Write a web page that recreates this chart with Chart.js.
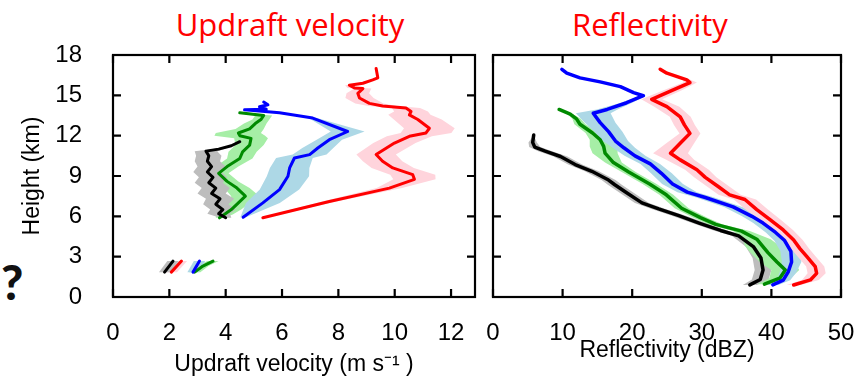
<!DOCTYPE html>
<html>
<head>
<meta charset="utf-8">
<script src="https://cdn.jsdelivr.net/npm/chart.js@4.4.1/dist/chart.umd.min.js"></script>
<style>
    body { margin: 0; background: #fff; }
    #wrap { position: relative; width: 862px; height: 379px; overflow: hidden; }
    canvas { position: absolute; top: 0; }
    .titulo { position: absolute; top: 3px; width: 320px; text-align: center; color: #ff0000;
              font-family: 'Open Sans', Lato, sans-serif; font-size: 31px; line-height: 42px; }
    #pregunta { position: absolute; left: 1px; top: 254px; font-family: Lato, sans-serif;
                font-weight: 900; font-size: 48px; line-height: 56px; color: #111; }
</style>
</head>
<body>
<div id="wrap">
    <div class="titulo" style="left:130px">Updraft velocity</div>
    <div class="titulo" style="left:490px">Reflectivity</div>
    <div id="pregunta">?</div>
    <canvas id="chartUp" width="480" height="379" style="left:0"></canvas>
    <canvas id="chartRefl" width="382" height="379" style="left:480px"></canvas>
</div>
<script>
// ticks
const heightTicks = [0, 3, 6, 9, 12, 15, 18]
const upTicks = [0, 2, 4, 6, 8, 10, 12]
const reflTicks = [0, 10, 20, 30, 40, 50]

// updraft velocity profiles (m/s) : heights (km), mean, spread
const upRedH = [5.9, 7.1, 8.1, 8.75, 9.1, 9.6, 10.1, 10.6, 11.45, 11.95, 12.2, 12.55, 13.2, 13.55, 13.8, 14.05, 14.2, 14.4, 14.8, 15.15, 15.5, 15.55, 15.75, 15.9, 16.15, 16.3, 17.0]
const upRed = [5.32, 7.68, 9.81, 10.7, 10.64, 9.93, 9.57, 9.34, 9.99, 10.52, 11.11, 11.23, 10.82, 10.52, 10.58, 10.4, 9.57, 9.1, 8.75, 8.69, 8.87, 8.57, 8.39, 8.87, 9.22, 9.4, 9.34]
const upRedSd = [0.1, 0.25, 0.45, 0.75, 0.8, 0.75, 0.7, 0.7, 0.75, 0.8, 0.9, 0.9, 0.85, 0.75, 0.6, 0.5, 0.5, 0.5, 0.5, 0.4, 0.3, 0.25, 0.15, 0.05, 0, 0, 0]

const upBlueH = [5.93, 7.0, 7.99, 8.98, 9.6, 10.34, 10.59, 11.08, 11.7, 12.31, 13.31, 13.7, 13.92, 13.97, 14.15, 14.3, 14.5]
const upBlue = [4.62, 5.32, 5.91, 6.21, 6.27, 6.44, 6.98, 7.27, 7.68, 8.33, 7.09, 5.91, 4.67, 5.44, 5.2, 5.5, 5.35]
const upBlueSd = [0.1, 0.6, 0.7, 0.75, 0.7, 0.65, 0.6, 0.55, 0.45, 0.6, 0.15, 0, 0, 0, 0, 0, 0]

const upGreenH = [5.89, 6.14, 6.5, 7.0, 7.5, 8.1, 8.6, 9.2, 9.7, 10.3, 10.8, 11.3, 11.8, 12.0, 12.2, 12.5, 12.9, 13.2, 13.5, 13.7]
const upGreen = [3.78, 3.95, 4.2, 4.45, 4.7, 4.4, 4.05, 3.75, 4.05, 4.5, 4.6, 4.85, 4.9, 4.5, 4.45, 4.85, 5.05, 5.25, 5.35, 4.5]
const upGreenSd = [0.15, 0.3, 0.35, 0.4, 0.5, 0.45, 0.4, 0.35, 0.4, 0.45, 0.5, 0.5, 0.6, 0.9, 0.8, 0.5, 0.4, 0.3, 0.3, 0]

const upBlackH = [5.9, 6.2, 6.5, 6.9, 7.3, 7.7, 8.1, 8.5, 8.9, 9.3, 9.7, 10.1, 10.5, 10.85, 11.0, 11.25, 11.55]
const upBlack = [4.0, 3.75, 3.9, 3.65, 3.8, 3.5, 3.65, 3.4, 3.55, 3.35, 3.5, 3.35, 3.4, 3.3, 3.75, 4.2, 4.5]
const upBlackSd = [0.2, 0.4, 0.45, 0.45, 0.5, 0.5, 0.5, 0.5, 0.5, 0.5, 0.5, 0.45, 0.45, 0.4, 0.2, 0, 0]

// low level (~2 km) updraft pieces
const lowH = [1.85, 2.67]
const lowBlack = [1.83, 2.13]
const lowRed = [2.07, 2.43]
const lowBlue = [2.84, 3.07]
const lowSd = [0.2, 0.2]
const lowGreenH = [1.85, 2.3, 2.67]
const lowGreen = [2.9, 3.19, 3.55]
const lowGreenSd = [0.2, 0.2, 0.2]

// reflectivity profiles (dBZ)
const rfRedH = [0.89, 1.27, 1.76, 2.26, 3.0, 3.6, 4.24, 4.99, 5.76, 6.5, 7.25, 7.6, 8.2, 8.9, 9.47, 10.2, 10.69, 11.43, 12.17, 12.8, 13.4, 14.16, 14.7, 15.4, 15.95, 16.15, 16.65, 16.94]
const rfRed = [43.2, 45.6, 46.5, 46.3, 45.1, 44.1, 43.2, 41.7, 39.8, 37.9, 36.2, 34.0, 32.4, 30.5, 29.3, 26.9, 25.5, 26.9, 28.3, 27.5, 26.9, 24.98, 22.8, 25.9, 28.3, 27.85, 24.98, 24.02]
const rfRedSd = [1.0, 1.2, 1.3, 1.3, 1.3, 1.3, 1.3, 1.4, 1.5, 1.6, 1.6, 1.6, 1.6, 1.6, 1.7, 2.0, 2.5, 2.0, 1.5, 1.5, 1.5, 1.8, 1.5, 1.3, 1.0, 0.5, 0, 0]

const rfBlueH = [0.9, 1.25, 1.85, 2.6, 3.4, 4.2, 4.8, 5.5, 6.0, 6.7, 7.4, 7.8, 8.4, 9.2, 9.9, 10.5, 11.1, 11.6, 12.3, 12.97, 13.67, 13.95, 14.45, 14.97, 15.2, 15.65, 16.0, 16.3, 16.65, 16.93]
const rfBlue = [40.2, 41.7, 42.4, 42.9, 42.8, 41.9, 40.6, 38.8, 37.2, 34.5, 30.5, 27.9, 25.8, 24.2, 22.6, 20.4, 18.8, 17.6, 16.6, 15.4, 14.4, 16.4, 19.2, 21.6, 20.2, 18.3, 15.4, 12.5, 10.6, 9.9]
const rfBlueSd = [0.8, 1.0, 1.2, 1.4, 1.5, 1.5, 1.4, 1.4, 1.4, 1.3, 1.3, 1.4, 1.5, 1.5, 1.4, 1.5, 1.6, 1.8, 2.0, 2.2, 2.5, 1.5, 0.8, 0.4, 0.2, 0, 0, 0, 0, 0]

const rfGreenH = [0.95, 1.4, 2.0, 2.6, 3.3, 3.8, 4.3, 4.9, 5.4, 5.9, 6.6, 7.6, 8.4, 9.3, 10.0, 10.7, 11.2, 11.7, 12.2, 12.85, 13.25, 13.6, 13.95]
const rfGreen = [39.0, 41.2, 42.0, 40.8, 39.5, 38.7, 37.9, 35.7, 32.0, 29.8, 27.1, 24.9, 22.5, 19.5, 17.3, 16.1, 15.9, 15.4, 14.3, 12.5, 12.0, 11.1, 9.5]
const rfGreenSd = [1.0, 1.5, 2.0, 2.5, 2.5, 2.5, 2.0, 1.2, 1.0, 1.0, 1.0, 1.0, 1.0, 1.0, 1.2, 1.8, 2.0, 1.5, 1.0, 0.8, 0.6, 0.4, 0]

const rfBlackH = [0.9, 1.3, 2.0, 2.9, 3.75, 4.55, 4.95, 5.5, 6.05, 6.55, 7.0, 7.75, 8.35, 8.7, 9.35, 9.85, 10.45, 10.85, 11.15, 11.5, 12.05]
const rfBlack = [36.9, 38.4, 38.8, 38.5, 37.4, 35.3, 32.7, 29.6, 26.7, 23.8, 21.4, 19.2, 17.5, 16.6, 14.2, 11.8, 9.7, 7.5, 6.0, 5.7, 5.85]
const rfBlackSd = [1.0, 1.2, 1.2, 1.2, 1.1, 1.0, 1.0, 1.0, 1.0, 1.0, 1.0, 1.0, 1.0, 1.0, 1.0, 1.0, 1.0, 1.0, 0.8, 0.6, 0]

const colores = { red: '#ff0000', blue: '#0000ff', green: '#008a00', black: '#000000' }
const sombras = { red: '#ffd4dc', blue: '#add8e6', green: '#a6eea6', black: '#bdbdbd' }
const fuente = 'Liberation Sans, Arial, sans-serif'

const linea = (h, v, color, ancho) => ({
    data: h.map((y, i) => ({ x: v[i], y })),
    borderColor: color,
    borderWidth: ancho,
    borderJoinStyle: 'round',
    borderCapStyle: 'round',
    fill: false,
    order: 1
})

// shaded band = closed shape: left edge going up, right edge coming down
const banda = (h, v, sd, color) => {
    const izq = h.map((y, i) => ({ x: v[i] - sd[i], y }))
    const der = h.map((y, i) => ({ x: v[i] + sd[i], y })).reverse()
    return {
        data: izq.concat(der),
        borderColor: 'rgba(0,0,0,0)',
        borderWidth: 0,
        backgroundColor: color,
        fill: 'shape',
        order: 2
    }
}

// frame with inward ticks on all four sides
const marco = {
    id: 'marco',
    afterDatasetsDraw(chart) {
        const { ctx, chartArea: a, scales: { x, y } } = chart
        const largo = 8
        ctx.save()
        ctx.strokeStyle = '#000'
        ctx.lineWidth = 2.2
        ctx.strokeRect(a.left, a.top, a.right - a.left, a.bottom - a.top)
        ctx.beginPath()
        x.ticks.forEach(t => {
            const px = x.getPixelForValue(t.value)
            ctx.moveTo(px, a.bottom); ctx.lineTo(px, a.bottom - largo)
            ctx.moveTo(px, a.top); ctx.lineTo(px, a.top + largo)
        })
        y.ticks.forEach(t => {
            const py = y.getPixelForValue(t.value)
            ctx.moveTo(a.left, py); ctx.lineTo(a.left + largo, py)
            ctx.moveTo(a.right, py); ctx.lineTo(a.right - largo, py)
        })
        ctx.stroke()
        ctx.restore()
    }
}

const fijarTicks = lista => scale => { scale.ticks = lista.map(v => ({ value: v })) }
// fixed axis box, no extra room asked for the edge labels
const fijarAlto = alto => s => { s.height = alto; s.paddingLeft = 0; s.paddingRight = 0 }
const fijarAncho = ancho => s => { s.width = ancho; s.paddingTop = 0; s.paddingBottom = 0 }

const chartUp = new Chart(document.getElementById('chartUp').getContext('2d'), {
    type: 'line',
    data: {
        datasets: [
            banda(upRedH, upRed, upRedSd, sombras.red),
            banda(upBlueH, upBlue, upBlueSd, sombras.blue),
            banda(upBlackH, upBlack, upBlackSd, sombras.black),
            banda(upGreenH, upGreen, upGreenSd, sombras.green),
            banda(lowH, lowBlack, lowSd, sombras.black),
            banda(lowH, lowRed, lowSd, sombras.red),
            banda(lowH, lowBlue, lowSd, sombras.blue),
            banda(lowGreenH, lowGreen, lowGreenSd, sombras.green),
            linea(upRedH, upRed, colores.red, 3),
            linea(upBlueH, upBlue, colores.blue, 3),
            linea(upBlackH, upBlack, colores.black, 3),
            linea(upGreenH, upGreen, colores.green, 3),
            linea(lowH, lowBlack, colores.black, 3),
            linea(lowH, lowRed, colores.red, 3),
            linea(lowH, lowBlue, colores.blue, 3),
            linea(lowGreenH, lowGreen, colores.green, 3)
        ]
    },
    options: {
        responsive: false,
        animation: false,
        layout: { padding: { top: 55, right: 5, left: 0, bottom: 0 } },
        elements: { point: { radius: 0 }, line: { tension: 0 } },
        plugins: { legend: { display: false }, tooltip: { enabled: false } },
        scales: {
            x: {
                type: 'linear', min: 0, max: 12.85,
                afterBuildTicks: fijarTicks(upTicks),
                afterFit: fijarAlto(82),
                grid: { display: false }, border: { display: false },
                ticks: { padding: 14, color: '#000', font: { family: fuente, size: 24 } },
                title: { display: true, text: 'Updraft velocity (m s\u207B\u00B9 )', color: '#000',
                         font: { family: fuente, size: 23 }, padding: { top: 0, bottom: 1 } }
            },
            y: {
                type: 'linear', min: 0, max: 18,
                afterBuildTicks: fijarTicks(heightTicks),
                afterFit: fijarAncho(113),
                grid: { display: false }, border: { display: false },
                ticks: { padding: 23, color: '#000', font: { family: fuente, size: 24 } },
                title: { display: true, text: 'Height (km)', color: '#000',
                         font: { family: fuente, size: 23 }, padding: { top: 19, bottom: 0 } }
            }
        }
    },
    plugins: [marco]
})

const chartRefl = new Chart(document.getElementById('chartRefl').getContext('2d'), {
    type: 'line',
    data: {
        datasets: [
            banda(rfRedH, rfRed, rfRedSd, sombras.red),
            banda(rfBlueH, rfBlue, rfBlueSd, sombras.blue),
            banda(rfGreenH, rfGreen, rfGreenSd, sombras.green),
            banda(rfBlackH, rfBlack, rfBlackSd, sombras.black),
            linea(rfRedH, rfRed, colores.red, 3.5),
            linea(rfBlueH, rfBlue, colores.blue, 3.5),
            linea(rfGreenH, rfGreen, colores.green, 3.5),
            linea(rfBlackH, rfBlack, colores.black, 3.5)
        ]
    },
    options: {
        responsive: false,
        animation: false,
        layout: { padding: { top: 55, right: 21, left: 0, bottom: 0 } },
        elements: { point: { radius: 0 }, line: { tension: 0 } },
        plugins: { legend: { display: false }, tooltip: { enabled: false } },
        scales: {
            x: {
                type: 'linear', min: 0, max: 50,
                afterBuildTicks: fijarTicks(reflTicks),
                afterFit: fijarAlto(82),
                grid: { display: false }, border: { display: false },
                ticks: { padding: 14, color: '#000', font: { family: fuente, size: 24 } },
                title: { display: true, text: 'Reflectivity (dBZ)', color: '#000',
                         font: { family: fuente, size: 23 }, padding: { top: 0, bottom: 15 } }
            },
            y: {
                type: 'linear', min: 0, max: 18,
                afterBuildTicks: fijarTicks(heightTicks),
                afterFit: fijarAncho(13),
                grid: { display: false }, border: { display: false },
                ticks: { display: false }
            }
        }
    },
    plugins: [marco]
})
</script>
</body>
</html>
